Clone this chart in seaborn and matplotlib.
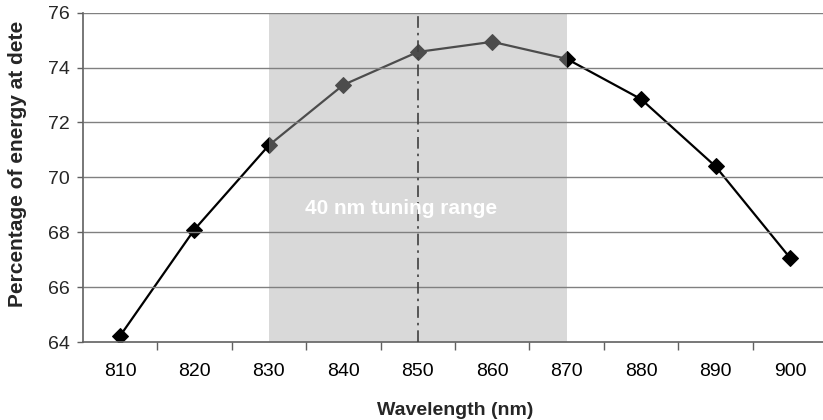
import matplotlib
matplotlib.use("Agg")
import matplotlib.pyplot as plt
import seaborn as sns
import pandas as pd
from matplotlib.patches import Rectangle

# values
wavelengths = [810, 820, 830, 840, 850, 860, 870, 880, 890, 900]
energy_pct = [64.22, 68.1, 71.17, 73.37, 74.57, 74.94, 74.32, 72.85, 70.4, 67.07]
tuning_range = (830, 870)
center_wl = 850
y_ticks = [64, 66, 68, 70, 72, 74, 76]

df = pd.DataFrame({"Wavelength": wavelengths, "Energy": energy_pct})

sns.set_theme(style="white")
plt.rcParams["font.family"] = ["Liberation Sans", "DejaVu Sans"]

fig = plt.figure(figsize=(8.23, 4.2), dpi=100)
ax = fig.add_axes([0.1006, 0.1857, 0.9045, 0.784])

sns.lineplot(data=df, x="Wavelength", y="Energy", color="black", linewidth=1.6,
             marker="D", markersize=8.5, markeredgecolor="black",
             markerfacecolor="black", ax=ax, zorder=2)

# shaded tuning range drawn over the curve (greys it out)
ax.add_patch(Rectangle((tuning_range[0], y_ticks[0]), tuning_range[1] - tuning_range[0],
                       y_ticks[-1] - y_ticks[0], facecolor="#ababab", alpha=0.45,
                       edgecolor="none", zorder=2.2))
ax.axvline(center_wl, color="#404040", linewidth=1.2,
           linestyle=(0, (7, 3, 1.5, 3)), zorder=2.6)
ax.text(847.8, 68.88, "40 nm tuning range", color="white", fontsize=15,
        fontweight="bold", ha="center", va="center", zorder=3)

ax.set_xlim(805, 905)
ax.set_ylim(y_ticks[0], y_ticks[-1])
ax.set_xticks(wavelengths)
ax.set_xticks([w + 5 for w in wavelengths[:-1]], minor=True)
ax.set_yticks(y_ticks)
ax.set_yticklabels([str(t) for t in y_ticks])

ax.set_axisbelow(False)
ax.grid(axis="y", color="#808080", linewidth=1.0)
ax.grid(axis="x", visible=False)

ax.tick_params(axis="x", which="major", length=0, pad=15, labelsize=14, colors="black")
ax.tick_params(axis="x", which="minor", bottom=True, length=5.5, width=1,
               color="#606060", direction="out")
ax.tick_params(axis="y", left=True, length=4.5, width=1, color="#606060",
               pad=5, labelsize=14, direction="out")

for side in ["top", "right"]:
    ax.spines[side].set_visible(False)
for side in ["left", "bottom"]:
    ax.spines[side].set_color("#606060")
    ax.spines[side].set_linewidth(1.2)

ax.set_xlabel("Wavelength (nm)", fontsize=14, fontweight="bold", labelpad=16)
ax.set_ylabel("")
fig.text(18 / 823, 1 - 307 / 420, "Percentage of energy at dete", rotation=90,
         fontsize=15, fontweight="bold", ha="center", va="bottom")

fig.savefig("out.png", dpi=100)
